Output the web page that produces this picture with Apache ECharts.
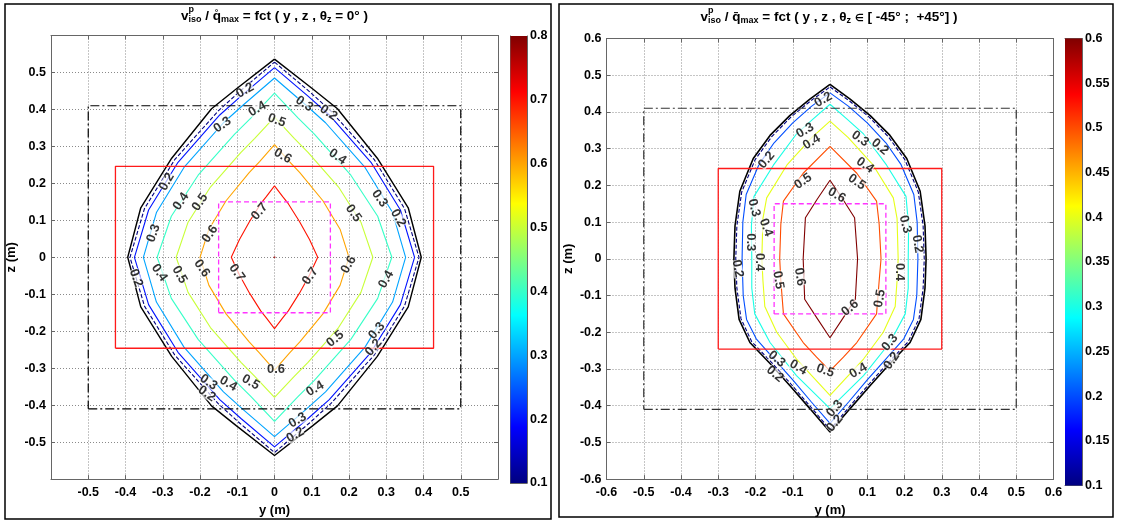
<!DOCTYPE html>
<html>
<head>
<meta charset="utf-8">
<script src="https://cdn.jsdelivr.net/npm/echarts@6/dist/echarts.min.js"></script>
<style>
html,body{margin:0;padding:0;background:#fff;}
#c{width:1121px;height:522px;}
</style>
</head>
<body>
<div id="c"></div>
<script>
// ---------------- DATA ----------------
// Left panel: theta_z = 0 deg. Contour polylines [y, z].
const leftLevels = [0.1, 0.2, 0.3, 0.4, 0.5, 0.6, 0.7];
const leftEnvelope = [[0,0.536],[0.102,0.456],[0.169,0.402],[0.276,0.268],[0.359,0.134],[0.394,0],[0.359,-0.134],[0.276,-0.268],[0.169,-0.402],[0.102,-0.456],[0,-0.536],[-0.102,-0.456],[-0.169,-0.402],[-0.276,-0.268],[-0.359,-0.134],[-0.394,0],[-0.359,0.134],[-0.276,0.268],[-0.169,0.402],[-0.102,0.456],[0,0.536]];
const leftC01 = [[0,0.528],[0.093,0.449],[0.151,0.396],[0.268,0.264],[0.349,0.132],[0.388,0],[0.349,-0.132],[0.268,-0.264],[0.151,-0.396],[0.093,-0.449],[0,-0.528],[-0.093,-0.449],[-0.151,-0.396],[-0.268,-0.264],[-0.349,-0.132],[-0.388,0],[-0.349,0.132],[-0.268,0.264],[-0.151,0.396],[-0.093,0.449],[0,0.528]];
const leftC02 = [[0,0.513],[0.090,0.436],[0.147,0.385],[0.259,0.257],[0.338,0.128],[0.376,0],[0.338,-0.128],[0.259,-0.257],[0.147,-0.385],[0.090,-0.436],[0,-0.513],[-0.090,-0.436],[-0.147,-0.385],[-0.259,-0.257],[-0.338,-0.128],[-0.376,0],[-0.338,0.128],[-0.259,0.257],[-0.147,0.385],[-0.090,0.436],[0,0.513]];
const leftC03 = [[0,0.485],[0.084,0.412],[0.137,0.364],[0.243,0.243],[0.317,0.121],[0.352,0],[0.317,-0.121],[0.243,-0.243],[0.137,-0.364],[0.084,-0.412],[0,-0.485],[-0.084,-0.412],[-0.137,-0.364],[-0.243,-0.243],[-0.317,-0.121],[-0.352,0],[-0.317,0.121],[-0.243,0.243],[-0.137,0.364],[-0.084,0.412],[0,0.485]];
const leftC04 = [[0,0.444],[0.063,0.377],[0.107,0.333],[0.205,0.222],[0.277,0.111],[0.315,0],[0.277,-0.111],[0.205,-0.222],[0.107,-0.333],[0.063,-0.377],[0,-0.444],[-0.063,-0.377],[-0.107,-0.333],[-0.205,-0.222],[-0.277,-0.111],[-0.315,0],[-0.277,0.111],[-0.205,0.222],[-0.107,0.333],[-0.063,0.377],[0,0.444]];
const leftC05 = [[0,0.379],[0.053,0.322],[0.090,0.284],[0.172,0.190],[0.232,0.095],[0.264,0],[0.232,-0.095],[0.172,-0.190],[0.090,-0.284],[0.053,-0.322],[0,-0.379],[-0.053,-0.322],[-0.090,-0.284],[-0.172,-0.190],[-0.232,-0.095],[-0.264,0],[-0.232,0.095],[-0.172,0.190],[-0.090,0.284],[-0.053,0.322],[0,0.379]];
const leftC06 = [[0,0.305],[0.040,0.259],[0.068,0.229],[0.130,0.153],[0.176,0.076],[0.200,0],[0.176,-0.076],[0.130,-0.153],[0.068,-0.229],[0.040,-0.259],[0,-0.305],[-0.040,-0.259],[-0.068,-0.229],[-0.130,-0.153],[-0.176,-0.076],[-0.200,0],[-0.176,0.076],[-0.130,0.153],[-0.068,0.229],[-0.040,0.259],[0,0.305]];
const leftC07 = [[0,0.193],[0.022,0.164],[0.037,0.145],[0.067,0.097],[0.094,0.048],[0.116,0],[0.094,-0.048],[0.067,-0.097],[0.037,-0.145],[0.022,-0.164],[0,-0.193],[-0.022,-0.164],[-0.037,-0.145],[-0.067,-0.097],[-0.094,-0.048],[-0.116,0],[-0.094,0.048],[-0.067,0.097],[-0.037,0.145],[-0.022,0.164],[0,0.193]];
const leftPeak = [[0,0]];
// contour labels: [text, y, z, rotation]
const leftLabels = [
 ['0.2',-0.079,0.451,30],['0.3',0.080,0.415,-35],['0.2',0.145,0.391,-35],['0.4',-0.046,0.401,30],
 ['0.3',-0.14,0.358,35],['0.5',0.006,0.37,-20],['0.6',0.022,0.274,-30],['0.4',0.169,0.272,-35],
 ['0.2',-0.289,0.204,60],['0.4',-0.251,0.151,55],['0.5',-0.2,0.149,55],['0.7',-0.04,0.124,50],
 ['0.3',0.282,0.159,-55],['0.2',0.332,0.106,-60],['0.5',0.212,0.119,-55],['0.3',-0.325,0.065,70],
 ['0.6',-0.173,0.063,55],['0.6',0.199,-0.02,60],['0.2',-0.372,-0.056,-70],['0.4',-0.309,-0.042,-55],
 ['0.5',-0.255,-0.047,-60],['0.6',-0.195,-0.03,-55],['0.7',-0.101,-0.042,-55],['0.7',0.096,-0.051,55],
 ['0.4',0.3,-0.06,60],['0.3',0.275,-0.199,50],['0.2',0.266,-0.244,50],['0.5',0.163,-0.221,40],
 ['0.6',0.004,-0.302,0],['0.3',-0.177,-0.338,-35],['0.2',-0.182,-0.369,-35],['0.4',-0.124,-0.342,-30],
 ['0.5',-0.064,-0.338,-30],['0.4',0.109,-0.356,30],['0.3',0.062,-0.441,30],['0.2',0.056,-0.481,30]
];
// Right panel: theta_z in [-45, +45] deg
const rightLevels = [0.1, 0.2, 0.3, 0.4, 0.5, 0.6];
const rightEnvelope = [[0,0.475],[0.054,0.435],[0.108,0.39],[0.161,0.336],[0.206,0.273],[0.242,0.184],[0.255,0.09],[0.258,0],[0.255,-0.08],[0.244,-0.165],[0.215,-0.228],[0.161,-0.285],[0.108,-0.345],[0.054,-0.408],[0,-0.472],[-0.054,-0.408],[-0.108,-0.345],[-0.161,-0.285],[-0.215,-0.228],[-0.244,-0.165],[-0.255,-0.08],[-0.258,0],[-0.255,0.09],[-0.242,0.184],[-0.206,0.273],[-0.161,0.336],[-0.108,0.39],[-0.054,0.435],[0,0.475]];
const rightC01 = [[0,0.468],[0.052,0.43],[0.105,0.386],[0.157,0.332],[0.201,0.27],[0.237,0.182],[0.25,0.09],[0.253,0],[0.25,-0.08],[0.239,-0.163],[0.21,-0.226],[0.157,-0.282],[0.105,-0.341],[0.052,-0.403],[0,-0.465],[-0.052,-0.403],[-0.105,-0.341],[-0.157,-0.282],[-0.21,-0.226],[-0.239,-0.163],[-0.25,-0.08],[-0.253,0],[-0.25,0.09],[-0.237,0.182],[-0.201,0.27],[-0.157,0.332],[-0.105,0.386],[-0.052,0.43],[0,0.468]];
const rightC02 = [[0,0.452],[0.05,0.415],[0.1,0.37],[0.15,0.316],[0.19,0.258],[0.225,0.175],[0.234,0.1],[0.236,0],[0.233,-0.1],[0.224,-0.165],[0.198,-0.218],[0.148,-0.275],[0.1,-0.33],[0.05,-0.39],[0,-0.448],[-0.05,-0.39],[-0.1,-0.33],[-0.148,-0.275],[-0.198,-0.218],[-0.224,-0.165],[-0.233,-0.1],[-0.236,0],[-0.234,0.1],[-0.225,0.175],[-0.19,0.258],[-0.15,0.316],[-0.1,0.37],[-0.05,0.415],[0,0.452]];
const rightC03 = [[0,0.421],[0.045,0.381],[0.09,0.34],[0.152,0.255],[0.204,0.17],[0.211,0.09],[0.21,0],[0.21,-0.08],[0.202,-0.15],[0.161,-0.228],[0.09,-0.318],[0,-0.408],[-0.09,-0.318],[-0.161,-0.228],[-0.202,-0.15],[-0.21,-0.08],[-0.21,0],[-0.211,0.09],[-0.204,0.17],[-0.152,0.255],[-0.09,0.34],[-0.045,0.381],[0,0.421]];
const rightC04 = [[0,0.375],[0.049,0.33],[0.116,0.255],[0.17,0.166],[0.18,0.11],[0.183,0],[0.18,-0.06],[0.175,-0.13],[0.143,-0.2],[0.09,-0.273],[0,-0.372],[-0.09,-0.273],[-0.143,-0.2],[-0.175,-0.13],[-0.18,-0.06],[-0.183,0],[-0.18,0.11],[-0.17,0.166],[-0.116,0.255],[-0.049,0.33],[0,0.375]];
const rightC05 = [[0,0.306],[0.072,0.233],[0.125,0.157],[0.132,0.094],[0.137,0],[0.132,-0.06],[0.125,-0.15],[0.072,-0.228],[0.036,-0.268],[0,-0.305],[-0.036,-0.268],[-0.072,-0.228],[-0.125,-0.15],[-0.132,-0.06],[-0.135,0],[-0.132,0.094],[-0.125,0.157],[-0.072,0.233],[0,0.306]];
const rightC06 = [[0,0.214],[0.034,0.163],[0.066,0.112],[0.074,0],[0.068,-0.11],[0.034,-0.163],[0,-0.215],[-0.034,-0.163],[-0.068,-0.11],[-0.072,0],[-0.066,0.112],[-0.034,0.163],[0,0.214]];
const rightLabels = [
 ['0.2',-0.018,0.433,30],['0.3',-0.067,0.349,30],['0.4',-0.049,0.318,30],['0.3',0.081,0.327,-35],
 ['0.2',0.134,0.305,-40],['0.2',-0.17,0.269,50],['0.4',0.094,0.255,-35],['0.5',-0.072,0.211,35],
 ['0.5',0.072,0.209,-35],['0.6',0.018,0.173,-30],['0.3',-0.204,0.139,-75],['0.4',-0.172,0.085,-70],
 ['0.3',-0.214,0.045,-90],['0.4',-0.19,-0.009,-90],['0.3',0.202,0.094,-75],['0.2',0.235,0.04,-80],
 ['0.4',0.1875,-0.036,-90],['0.2',-0.248,-0.027,-80],['0.5',-0.139,-0.058,-80],['0.6',-0.081,-0.049,-80],
 ['0.6',0.054,-0.134,40],['0.5',0.134,-0.108,80],['0.3',0.161,-0.228,50],['0.2',0.166,-0.278,55],
 ['0.3',-0.143,-0.273,-40],['0.2',-0.148,-0.314,-40],['0.4',-0.085,-0.296,-30],['0.5',-0.013,-0.305,-20],
 ['0.4',0.076,-0.305,30],['0.3',0.013,-0.408,50],['0.2',0.013,-0.448,50]
];
// Reference rectangles [yMin, yMax, zMin, zMax]
const leftRectDashDot = [-0.5, 0.5, -0.41, 0.41];
const leftRectRed = [-0.427, 0.427, -0.246, 0.246];
const leftRectMagenta = [-0.15, 0.15, -0.15, 0.15];
const rightRectDashDot = [-0.5, 0.5, -0.41, 0.41];
const rightRectRed = [-0.3, 0.3, -0.246, 0.246];
const rightRectMagenta = [-0.15, 0.15, -0.15, 0.15];
// Axis / colour bar ranges
const axisRange = [-0.6, 0.6];
const leftCbRange = [0.1, 0.8];
const rightCbRange = [0.1, 0.6];
const leftTitle = [['v',13.5,0],['p',9,-6,true],['iso',9,4],[' / ',13.5,0],['q\u030A',13.5,0],['max',9,4],[' = fct ( y , z , \u03B8',13.5,0],['z',9,4],[' = 0\u00B0 )',13.5,0]];
const rightTitle = [['v',13.5,0],['p',9,-6,true],['iso',9,4],[' / ',13.5,0],['q\u0304',13.5,0],['max',9,4],[' = fct ( y , z , \u03B8',13.5,0],['z',9,4],[' ',13.5,0],['\u2208',10,1],[' [ -45\u00B0 ;  +45\u00B0] )',13.5,0]];

// ---------------- RENDER ----------------
const FONT = '"Liberation Sans", Arial, Helvetica, sans-serif';
function jet(lo, hi, v) {
  const x = (v - lo) / (hi - lo);
  const c = t => Math.max(0, Math.min(1, t));
  const r = c(1.5 - Math.abs(4 * x - 3)), g = c(1.5 - Math.abs(4 * x - 2)), b = c(1.5 - Math.abs(4 * x - 1));
  return 'rgb(' + Math.round(r * 255) + ',' + Math.round(g * 255) + ',' + Math.round(b * 255) + ')';
}
const fmt = v => String(+(+v).toFixed(2));
const chart = echarts.init(document.getElementById('c'), null, {renderer: 'canvas'});

const grids = [
  {left: 51, top: 35.5, width: 447, height: 447},
  {left: 510.5, top: 36, width: 16.5, height: 447},
  {left: 606.5, top: 38.5, width: 447, height: 446.5},
  {left: 1065, top: 38.5, width: 17, height: 447}
];
const boxColor = '#666';
const lab = {color: '#000', fontWeight: 'bold', fontSize: 12.5, fontFamily: FONT};
const nameStyle = {color: '#000', fontWeight: 'bold', fontSize: 13, fontFamily: FONT};

function mainAxes(gi, hideEnds, xGap, yGap) {
  const f = v => (hideEnds && Math.abs(v) > 0.55) ? '' : fmt(v);
  const common = {gridIndex: gi, type: 'value', min: axisRange[0], max: axisRange[1], interval: 0.1,
    axisLine: {show: true, onZero: false, lineStyle: {color: boxColor, width: 1}},
    axisTick: {show: true, inside: true, length: 4, lineStyle: {color: boxColor}}};
  const xs = [
    Object.assign({}, common, {position: 'bottom', axisLabel: Object.assign({formatter: f, margin: 7, showMinLabel: true, showMaxLabel: true}, lab),
      splitLine: {show: true, lineStyle: {type: [1, 2], color: '#8a8a8a', width: 1}},
      name: 'y (m)', nameLocation: 'middle', nameGap: xGap, nameTextStyle: nameStyle}),
    Object.assign({}, common, {position: 'top', axisLabel: {show: false}, splitLine: {show: false}})
  ];
  const ys = [
    Object.assign({}, common, {position: 'left', axisLabel: Object.assign({formatter: f, margin: 5, showMinLabel: true, showMaxLabel: true}, lab),
      splitLine: {show: true, lineStyle: {type: [1, 2], color: '#8a8a8a', width: 1}},
      name: 'z (m)', nameLocation: 'middle', nameGap: yGap, nameRotate: 90, nameTextStyle: nameStyle}),
    Object.assign({}, common, {position: 'right', axisLabel: {show: false}, splitLine: {show: false}})
  ];
  return {xs, ys};
}
function cbAxes(gi, range, interval, decimals) {
  const xc = {gridIndex: gi, type: 'value', min: 0, max: 1, axisTick: {show: false}, axisLabel: {show: false}, splitLine: {show: false},
    axisLine: {show: true, onZero: false, lineStyle: {color: boxColor}}};
  const yc = {gridIndex: gi, type: 'value', min: range[0], max: range[1], interval: interval, splitLine: {show: false},
    axisLine: {show: true, onZero: false, lineStyle: {color: boxColor}},
    axisTick: {show: true, inside: true, length: 4, lineStyle: {color: boxColor}}};
  return {
    xs: [Object.assign({}, xc, {position: 'bottom'}), Object.assign({}, xc, {position: 'top'})],
    ys: [Object.assign({}, yc, {position: 'left', axisLabel: {show: false}}),
         Object.assign({}, yc, {position: 'right', axisLabel: Object.assign({margin: 3, formatter: v => String(+(+v).toFixed(decimals)), showMinLabel: true, showMaxLabel: true}, lab)})]
  };
}
const A0 = mainAxes(0, true, 19, 33), A1 = cbAxes(1, leftCbRange, 0.1, 1), A2 = mainAxes(2, false, 20, 32), A3 = cbAxes(3, rightCbRange, 0.05, 2);
const xAxis = [].concat(A0.xs, A1.xs, A2.xs, A3.xs);
const yAxis = [].concat(A0.ys, A1.ys, A2.ys, A3.ys);

const series = [];
function line(ax, data, color, width, type, z) {
  series.push({type: 'line', xAxisIndex: ax, yAxisIndex: ax, data: data, showSymbol: false, symbol: 'none', smooth: false,
    clip: false, silent: true, z: z || 2, lineStyle: {color: color, width: width, type: type || 'solid'}});
}
function rect(ax, r, color, width, type) {
  line(ax, [[r[0], r[2]], [r[1], r[2]], [r[1], r[3]], [r[0], r[3]], [r[0], r[2]]], color, width, type, 3);
}
function labels(ax, arr) {
  series.push({type: 'scatter', xAxisIndex: ax, yAxisIndex: ax, symbolSize: 0, silent: true, z: 5,
    data: arr.map(a => ({name: a[0], value: [a[1], a[2]], label: {rotate: a[3]}})),
    label: {show: true, position: 'inside', formatter: '{b}', color: '#000', fontSize: 13, fontWeight: 'bold', fontFamily: FONT,
      backgroundColor: 'rgba(255,255,255,0.85)', padding: [-1, 0, -2, 0]}});
}
function colorbar(ax, range) {
  series.push({type: 'custom', xAxisIndex: ax, yAxisIndex: ax, silent: true, z: 1,
    data: [[range[0], range[1]]],
    renderItem: function (params, api) {
      const p0 = api.coord([0, api.value(0)]);
      const p1 = api.coord([1, api.value(1)]);
      return {type: 'rect', shape: {x: p0[0], y: p1[1], width: p1[0] - p0[0], height: p0[1] - p1[1]},
        style: {fill: new echarts.graphic.LinearGradient(0, 0, 0, 1, [
          {offset: 0, color: '#800000'}, {offset: 0.125, color: '#ff0000'}, {offset: 0.375, color: '#ffff00'},
          {offset: 0.625, color: '#00ffff'}, {offset: 0.875, color: '#0000ff'}, {offset: 1, color: '#000080'}])}};
    }});
}

// Left panel
const lc = leftLevels.map(v => jet(leftCbRange[0], leftCbRange[1], v));
rect(0, leftRectDashDot, '#000', 1.2, [9, 3, 2, 3]);
rect(0, leftRectRed, '#ff1a1a', 1.3, 'solid');
rect(0, leftRectMagenta, '#ff33ff', 1.3, [5, 3]);
line(0, leftEnvelope, '#000', 1.4);
line(0, leftC01, lc[0], 1.1, [4, 2]);
line(0, leftC02, lc[1], 1.1);
line(0, leftC03, lc[2], 1.1);
line(0, leftC04, lc[3], 1.1);
line(0, leftC05, lc[4], 1.1);
line(0, leftC06, lc[5], 1.1);
line(0, leftC07, lc[6], 1.1);
series.push({type: 'scatter', xAxisIndex: 0, yAxisIndex: 0, data: leftPeak, symbolSize: 2, silent: true, itemStyle: {color: '#a00000'}});
labels(0, leftLabels);
colorbar(1, leftCbRange);

// Right panel
const rc = rightLevels.map(v => jet(rightCbRange[0], rightCbRange[1], v));
rect(2, rightRectDashDot, '#333', 1.2, [9, 3, 2, 3]);
rect(2, rightRectRed, '#ff1a1a', 1.3, 'solid');
rect(2, rightRectMagenta, '#ff33ff', 1.3, [5, 3]);
line(2, rightEnvelope, '#000', 1.6);
line(2, rightC01, rc[0], 1.1, [4, 2]);
line(2, rightC02, rc[1], 1.1);
line(2, rightC03, rc[2], 1.1);
line(2, rightC04, rc[3], 1.1);
line(2, rightC05, rc[4], 1.1);
line(2, rightC06, rc[5], 1.1);
labels(2, rightLabels);
colorbar(3, rightCbRange);

// map panel indices to axis indices: main plots use axes 0 and 4; colour bars use 2 and 6
series.forEach(s => {
  const map = {0: 0, 1: 2, 2: 4, 3: 6};
  s.xAxisIndex = map[s.xAxisIndex]; s.yAxisIndex = map[s.yAxisIndex];
});

// Titles built from text pieces measured with canvas
const mctx = document.createElement('canvas').getContext('2d');
function titleEls(cx, cy, segs) {
  let w = 0; const pos = [];
  segs.forEach(s => { mctx.font = 'bold ' + s[1] + 'px ' + FONT; const tw = mctx.measureText(s[0]).width; pos.push(w); if (!s[3]) w += tw; });
  const x0 = cx - w / 2;
  return segs.map((s, i) => ({type: 'text', x: x0 + pos[i], y: cy + s[2], silent: true,
    style: {text: s[0], fill: '#000', font: 'bold ' + s[1] + 'px ' + FONT, textAlign: 'left', textVerticalAlign: 'middle', align: 'left', verticalAlign: 'middle'}}));
}
const graphic = [
  {type: 'rect', shape: {x: 5, y: 4, width: 546, height: 515}, style: {fill: 'none', stroke: '#000', lineWidth: 1.5}, silent: true},
  {type: 'rect', shape: {x: 559, y: 4, width: 554, height: 513}, style: {fill: 'none', stroke: '#000', lineWidth: 1.5}, silent: true}
].concat(titleEls(274.5, 16, leftTitle), titleEls(829, 17, rightTitle));

chart.setOption({animation: false, backgroundColor: '#fff', grid: grids, xAxis: xAxis, yAxis: yAxis, series: series, graphic: graphic});
</script>
</body>
</html>
